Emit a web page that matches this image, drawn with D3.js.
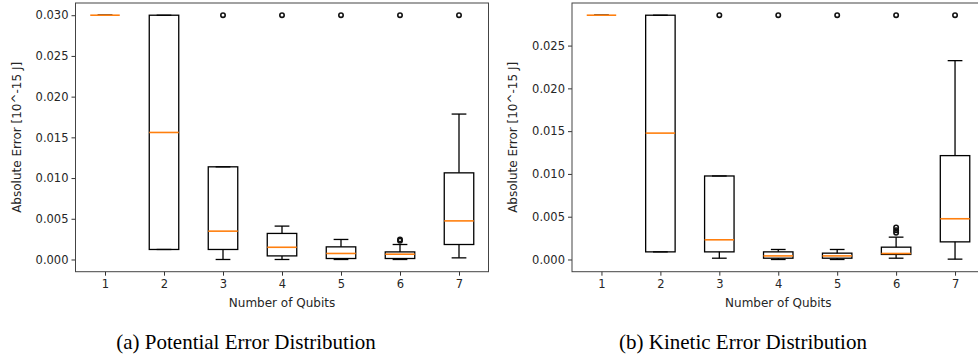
<!DOCTYPE html>
<html>
<head>
<meta charset="utf-8">
<script src="https://cdn.jsdelivr.net/npm/d3@7"></script>
<style>
  body { margin: 0; background: #fff; }
  svg { display: block; }
</style>
</head>
<body>
<svg id="chart"></svg>
<script>
const width = 978;
const height = 360;

// number of qubits on the x axis
const qubits = [1, 2, 3, 4, 5, 6, 7];
const yTicks = [0, 0.005, 0.01, 0.015, 0.02, 0.025, 0.03];

// (a) potential error: whisker low, Q1, median, Q3, whisker high, fliers
const potLow  = [0.030, 0.00123, 0.0,     0.0,     0.0,     0.0,     0.0002];
const potQ1   = [0.030, 0.00123, 0.00123, 0.00044, 0.00012, 0.00012, 0.00184];
const potMed  = [0.030, 0.0156,  0.00348, 0.0015,  0.00074, 0.00065, 0.00474];
const potQ3   = [0.030, 0.030,   0.01138, 0.0032,  0.00155, 0.00093, 0.01064];
const potHigh = [0.030, 0.030,   0.01138, 0.0041,  0.00246, 0.00184, 0.01786];
const potFliers = [[], [], [0.030], [0.030], [0.030], [0.030, 0.0023, 0.00245], [0.030]];

// (b) kinetic error
const kinLow  = [0.02855, 0.00089, 0.00015, 0.0,     0.0,     0.00015, 0.00004];
const kinQ1   = [0.02855, 0.00089, 0.00089, 0.00015, 0.00015, 0.00059, 0.00206];
const kinMed  = [0.02855, 0.01477, 0.0023,  0.00042, 0.00042, 0.0007,  0.00476];
const kinQ3   = [0.02855, 0.02855, 0.00976, 0.00089, 0.00074, 0.00144, 0.01214];
const kinHigh = [0.02855, 0.02855, 0.00976, 0.00117, 0.00117, 0.00261, 0.02324];
const kinFliers = [[], [], [0.02855], [0.02855], [0.02855], [0.02855, 0.00312, 0.00343, 0.00375], [0.02855]];

const svg = d3.select("#chart")
              .attr("width", width)
              .attr("height", height);

const textColor = "#262626";
const axisFont = "'DejaVu Sans', sans-serif";

function drawPanel(opts) {
  const x = d3.scaleLinear()
              .domain([0.5, 7.5])
              .range([opts.left, opts.right]);

  const all = [].concat(opts.low, opts.high, ...opts.fliers);
  const [lo, hi] = d3.extent(all);
  const pad = (hi - lo) * 0.05;
  const y = d3.scaleLinear()
              .domain([lo - pad, hi + pad])
              .range([opts.bottom, opts.top]);

  const g = svg.append("g");

  const boxes = qubits.map((q, i) => ({
    q: q, low: opts.low[i], q1: opts.q1[i], med: opts.med[i],
    q3: opts.q3[i], high: opts.high[i], fliers: opts.fliers[i]
  }));

  const boxW = x(1.25) - x(1);   // half of box width 0.5
  const capW = boxW / 2;

  const bx = g.selectAll("g.box")
              .data(boxes)
              .enter()
              .append("g")
              .attr("class", "box");

  // whiskers
  bx.append("line")
    .attr("x1", d => x(d.q)).attr("x2", d => x(d.q))
    .attr("y1", d => y(d.low)).attr("y2", d => y(d.q1))
    .style("stroke", "#000").style("stroke-width", 1.3);
  bx.append("line")
    .attr("x1", d => x(d.q)).attr("x2", d => x(d.q))
    .attr("y1", d => y(d.q3)).attr("y2", d => y(d.high))
    .style("stroke", "#000").style("stroke-width", 1.3);

  // caps
  bx.append("line")
    .attr("x1", d => x(d.q) - capW).attr("x2", d => x(d.q) + capW)
    .attr("y1", d => y(d.low)).attr("y2", d => y(d.low))
    .style("stroke", "#000").style("stroke-width", 1.3);
  bx.append("line")
    .attr("x1", d => x(d.q) - capW).attr("x2", d => x(d.q) + capW)
    .attr("y1", d => y(d.high)).attr("y2", d => y(d.high))
    .style("stroke", "#000").style("stroke-width", 1.3);

  // box
  bx.append("rect")
    .attr("x", d => x(d.q) - boxW)
    .attr("y", d => y(d.q3))
    .attr("width", boxW * 2)
    .attr("height", d => y(d.q1) - y(d.q3))
    .style("fill", "none")
    .style("stroke", "#000")
    .style("stroke-width", 1.3);

  // median
  bx.append("line")
    .attr("x1", d => x(d.q) - boxW).attr("x2", d => x(d.q) + boxW)
    .attr("y1", d => y(d.med)).attr("y2", d => y(d.med))
    .style("stroke", "#ff7f0e").style("stroke-width", 1.6);

  // fliers
  bx.selectAll("circle")
    .data(d => d.fliers.map(v => ({q: d.q, v: v})))
    .enter()
    .append("circle")
    .attr("cx", d => x(d.q))
    .attr("cy", d => y(d.v))
    .attr("r", 2.2)
    .style("fill", "none")
    .style("stroke", "#111")
    .style("stroke-width", 1.6);

  // axes
  const xAxis = g.append("g")
                 .attr("transform", "translate(0," + opts.bottom + ")")
                 .call(d3.axisBottom(x).tickValues(qubits).tickSize(4).tickSizeOuter(0).tickFormat(d3.format("d")));
  const yAxis = g.append("g")
                 .attr("transform", "translate(" + opts.left + ",0)")
                 .call(d3.axisLeft(y).tickValues(yTicks.filter(t => t <= y.domain()[1])).tickSize(4).tickSizeOuter(0).tickFormat(d3.format(".3f")));

  [xAxis, yAxis].forEach(a => {
    a.select(".domain").remove();
    a.selectAll(".tick line").style("stroke", "#333").style("stroke-width", 1);
    a.selectAll(".tick text")
     .style("font-family", axisFont)
     .style("font-size", "11.5px")
     .style("fill", textColor);
  });
  xAxis.selectAll(".tick text").attr("dy", "0.71em").attr("y", 8);
  yAxis.selectAll(".tick text").attr("x", -7);

  // frame
  g.append("rect")
   .attr("x", opts.left)
   .attr("y", opts.top)
   .attr("width", opts.right - opts.left)
   .attr("height", opts.bottom - opts.top)
   .style("fill", "none")
   .style("stroke", "#444")
   .style("stroke-width", 1);

  g.append("text")
   .attr("x", (opts.left + opts.right) / 2)
   .attr("y", opts.bottom + 35.5)
   .attr("text-anchor", "middle")
   .style("font-family", axisFont)
   .style("font-size", "12px")
   .style("fill", textColor)
   .text("Number of Qubits");

  g.append("text")
   .attr("transform", "translate(" + opts.yLabelX + "," + (opts.top + opts.bottom) / 2 + ") rotate(-90)")
   .attr("text-anchor", "middle")
   .attr("dy", "0.35em")
   .style("font-family", axisFont)
   .style("font-size", "12px")
   .style("fill", textColor)
   .text("Absolute Error [10^-15 J]");

  svg.append("text")
     .attr("x", opts.captionX)
     .attr("y", 349)
     .attr("text-anchor", "middle")
     .style("font-family", "'Liberation Serif', 'Times New Roman', serif")
     .style("font-size", "21px")
     .style("fill", "#000")
     .text(opts.caption);
}

drawPanel({
  left: 75.5, right: 488.5, top: 3, bottom: 271.7,
  low: potLow, q1: potQ1, med: potMed, q3: potQ3, high: potHigh, fliers: potFliers,
  yLabelX: 17, captionX: 246, caption: "(a) Potential Error Distribution"
});

drawPanel({
  left: 572, right: 984.5, top: 3, bottom: 271.7,
  low: kinLow, q1: kinQ1, med: kinMed, q3: kinQ3, high: kinHigh, fliers: kinFliers,
  yLabelX: 513, captionX: 743, caption: "(b) Kinetic Error Distribution"
});
</script>
</body>
</html>
